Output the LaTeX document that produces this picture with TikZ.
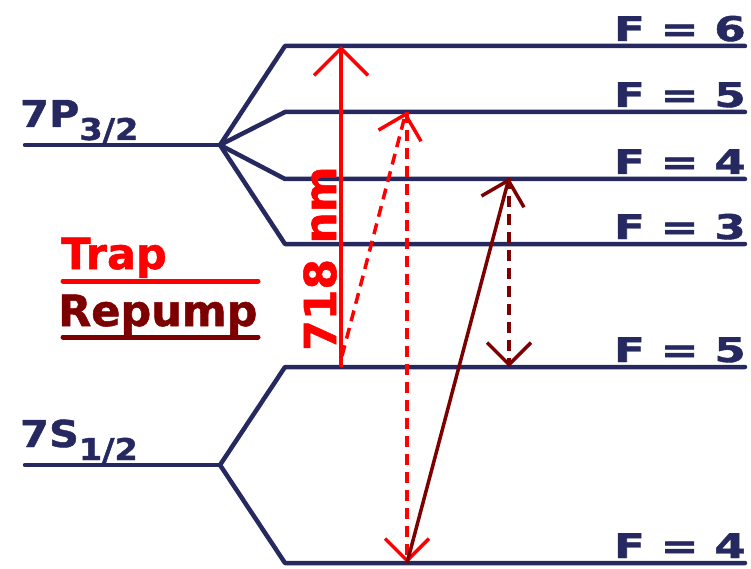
\documentclass[tikz,border=0pt]{standalone}
\usepackage{fontspec}
\usepackage{graphicx}
\setmainfont{DejaVu Sans}[BoldFeatures={FakeBold=1.2}]
\usetikzlibrary{arrows.meta}
\definecolor{navy}{RGB}{38,40,96}
\definecolor{trapred}{RGB}{255,0,0}
\definecolor{repred}{RGB}{125,0,0}
\newcommand{\flab}[1]{\scalebox{1.33}[1]{F = #1}}
\newcommand{\statelab}[2]{\scalebox{1.12}[1]{\fontsize{37}{37}\selectfont #1\raisebox{-13pt}{\fontsize{30}{30}\selectfont #2}}}
\begin{document}
\begin{tikzpicture}[x=1pt,y=-1pt,
  level/.style={draw=navy,line width=4.5pt,line cap=round,line join=round},
  flabel/.style={anchor=base east,inner sep=0pt,text=navy,font=\fontsize{34}{34}\selectfont\bfseries},
  slabel/.style={anchor=base west,inner sep=0pt,text=navy,font=\bfseries},
  keylabel/.style={anchor=base west,inner sep=0pt,font=\fontsize{43}{43}\selectfont\bfseries},
  keyline/.style={line width=5pt,line cap=round},
  bigtip/.style={-{Straight Barb[length=27pt,width=54pt]}},
  smalltip/.style={-{Straight Barb[length=22pt,width=44pt]}},
  trapsolid/.style={draw=trapred,line width=3.5pt,bigtip},
  trapdash/.style={draw=trapred,line width=3.5pt,smalltip,dash pattern=on 11pt off 7pt},
  repsolid/.style={draw=repred,line width=3.5pt,smalltip},
  repdash/.style={draw=repred,line width=3.5pt,smalltip,dash pattern=on 11pt off 7pt}
]
\useasboundingbox (0,0) rectangle (751,569);

% branch points
\coordinate (P) at (220,145);
\coordinate (S) at (220,465);
% 7P3/2 hyperfine levels
\draw[level] (25,145) -- (P);
\draw[level] (P) -- (285,46)  -- (745,46);
\draw[level] (P) -- (285,112) -- (745,112);
\draw[level] (P) -- (285,179) -- (745,179);
\draw[level] (P) -- (285,244) -- (745,244);
% 7S1/2 hyperfine levels
\draw[level] (25,465) -- (S);
\draw[level] (S) -- (285,367) -- (745,367);
\draw[level] (S) -- (285,563) -- (745,563);

% level labels
\node[slabel] (lp) at (20,127) {\statelab{7P}{3/2}};
\node[slabel] (ls) at (20,447) {\statelab{7S}{1/2}};
\node[flabel] (f6) at (746,41) {\flab{6}};
\node[flabel] (f5p) at (746,107) {\flab{5}};
\node[flabel] (f4p) at (746,174) {\flab{4}};
\node[flabel] (f3p) at (746,239) {\flab{3}};
\node[flabel] (f5s) at (746,362) {\flab{5}};
\node[flabel] (f4s) at (746,558) {\flab{4}};

% legend
\node[keylabel,text=trapred] (trap) at (61,269) {Trap};
\draw[keyline,draw=trapred] (63,281) -- (258,281);
\node[keylabel,text=repred] (rep) at (58,326) {Repump};
\draw[keyline,draw=repred] (63,337) -- (258,337);

% transition points
\coordinate (a0) at (341,367);
\coordinate (a1) at (341,46);
\coordinate (b0) at (342,356);
\coordinate (b1) at (406,112);
\coordinate (c0) at (407,112);
\coordinate (c1) at (407,563);
\coordinate (d0) at (407,563);
\coordinate (d1) at (509,178);
\coordinate (e0) at (509,178);
\coordinate (e1) at (509,367);

% transitions
\draw[trapsolid] (a0) -- (a1);
\node[anchor=base west,inner sep=0pt,rotate=90,text=trapred,font=\fontsize{44}{44}\selectfont\bfseries] (wl) at (336,351) {718 nm};
\draw[trapdash] (b0) -- (b1);
\draw[trapdash] (c0) -- (c1);
\draw[repsolid] (d0) -- (d1);
\draw[repdash] (e0) -- (e1);
\end{tikzpicture}
\end{document}
